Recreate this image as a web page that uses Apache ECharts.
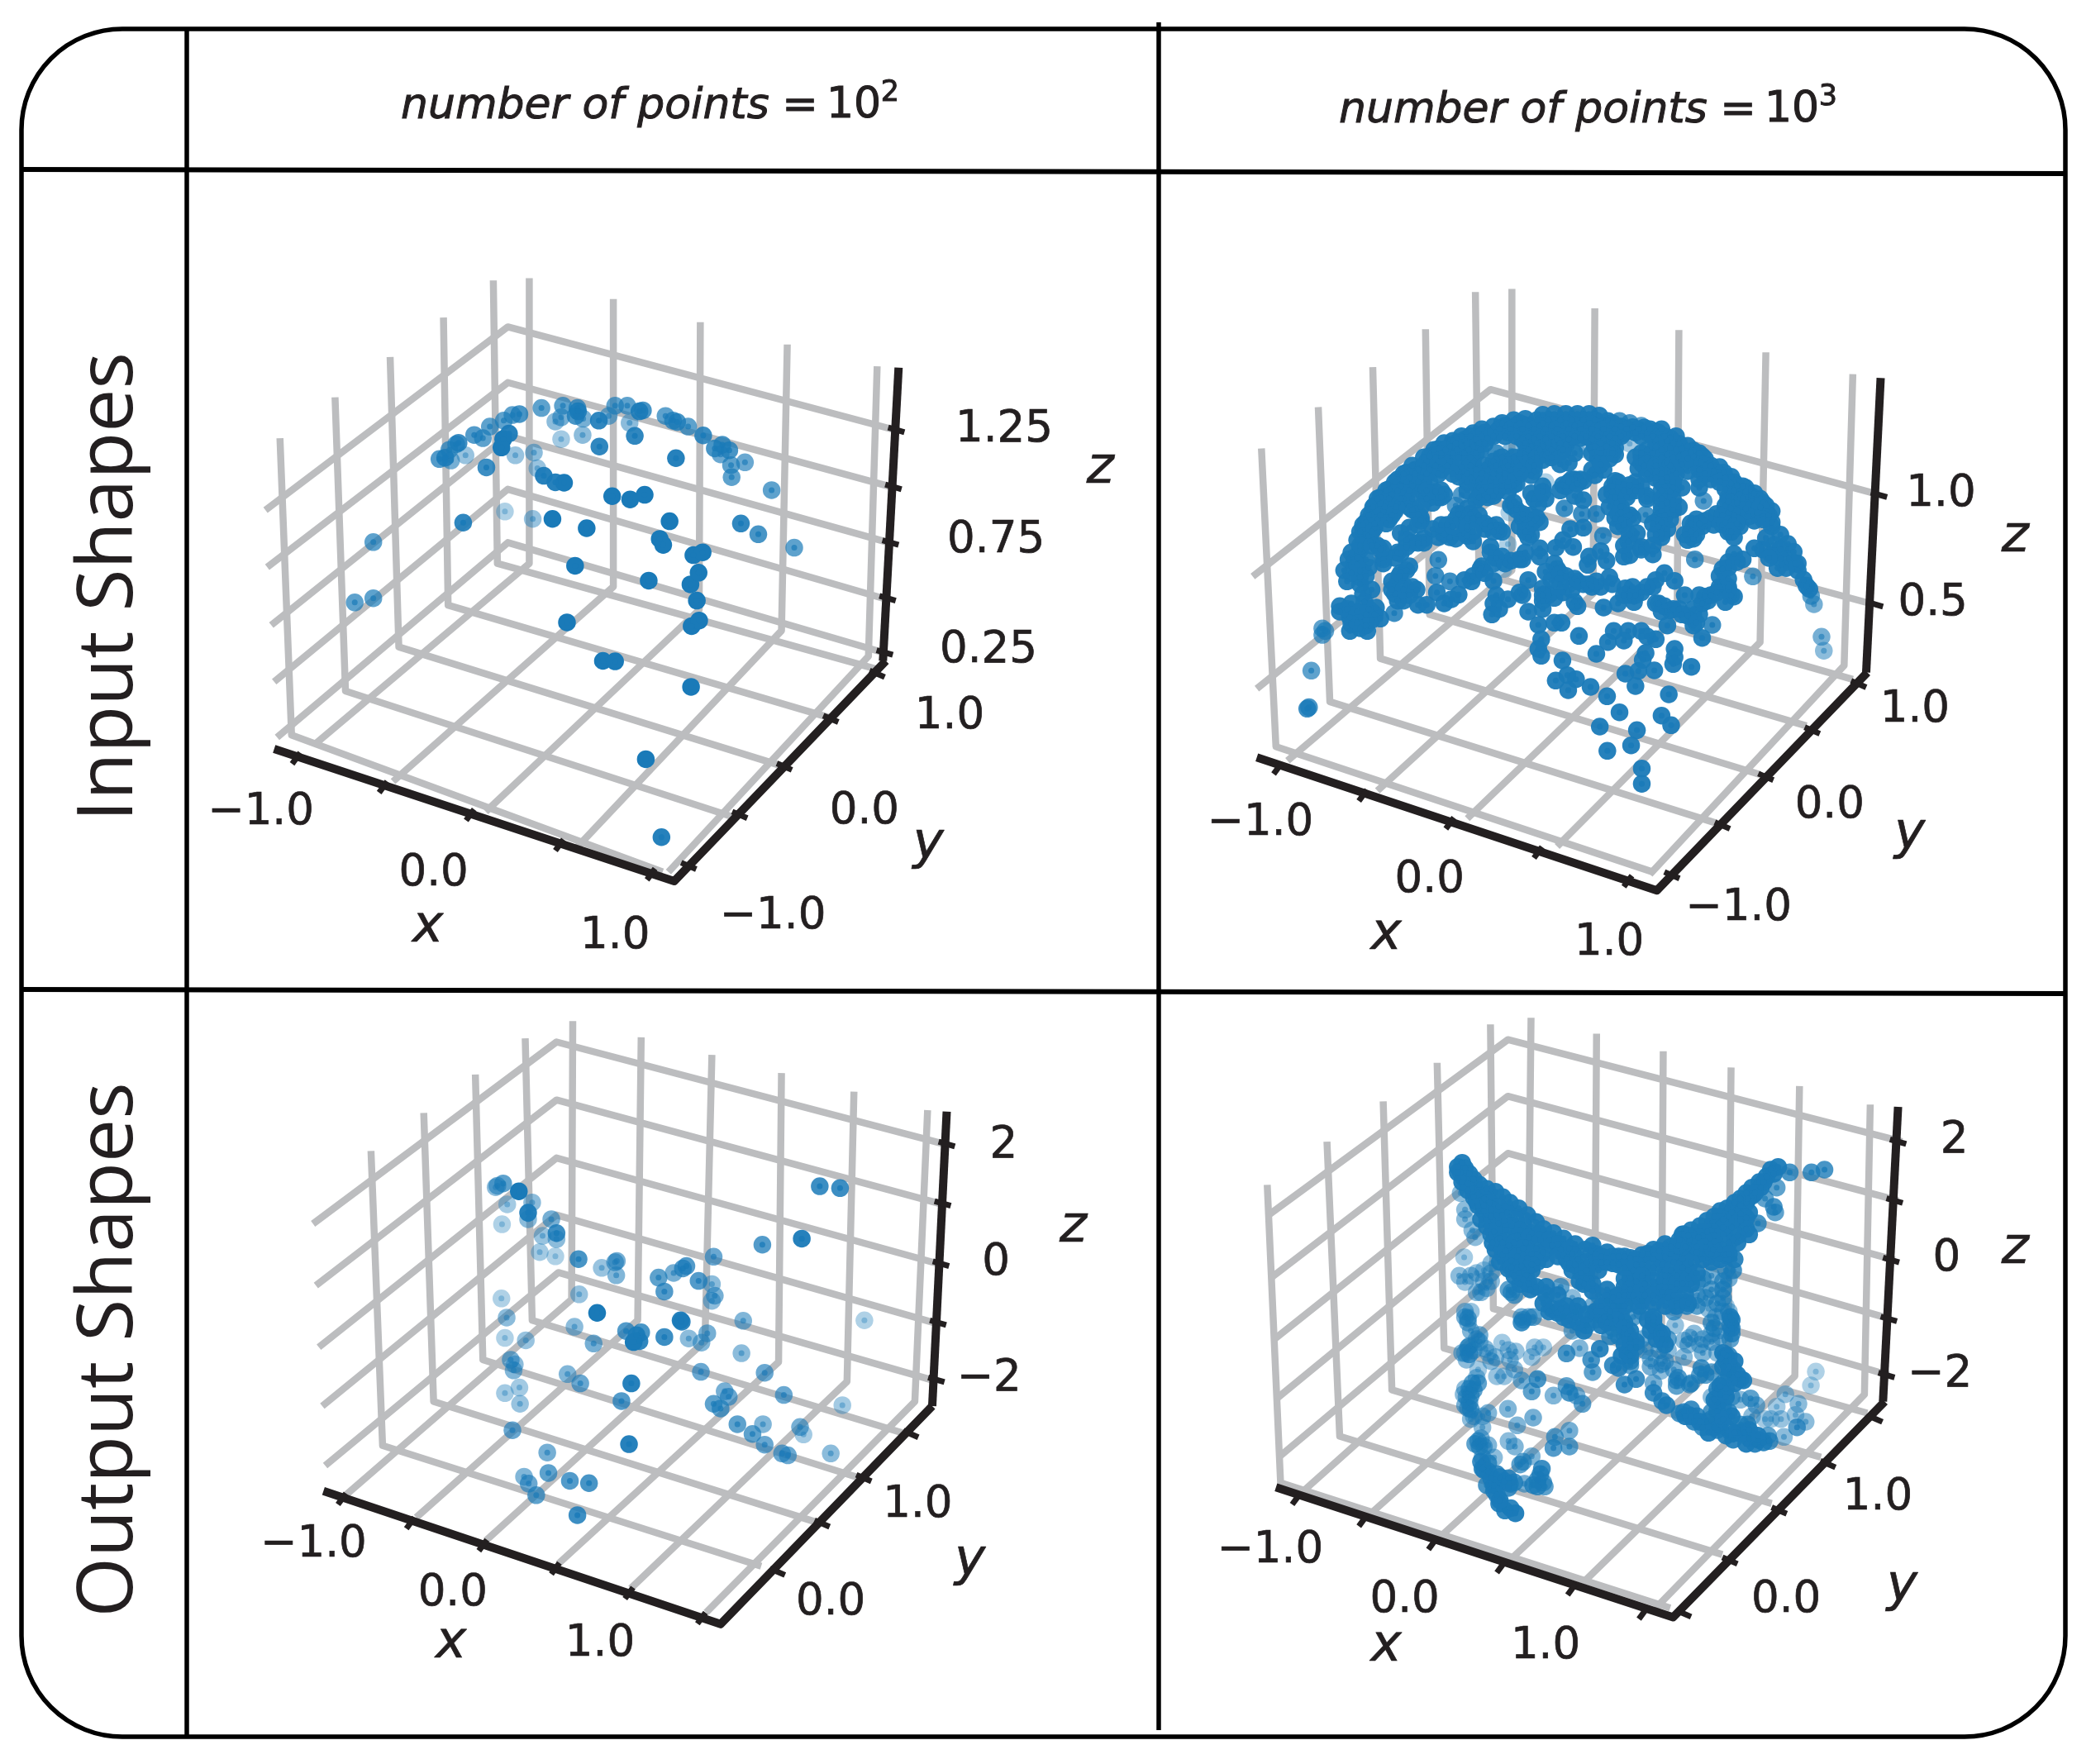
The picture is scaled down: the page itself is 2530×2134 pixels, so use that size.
<!DOCTYPE html>
<html><head><meta charset="utf-8">
<style>html,body{margin:0;padding:0;background:#fff}#c{width:2530px;height:2134px}</style>
<script src="https://cdn.jsdelivr.net/npm/echarts@6/dist/echarts.min.js"></script>
</head><body><div id="c"></div>
<script>
const input100 = [[813,1270,.95],[786,1102,1],[864,946,1],[712,890,1],[733,891,1],[650,807,1],[865,815,1],[878,803,1],[874,760,1],[863,725,1],[877,700,1],[791,717,1],[664,685,1],[868,662,1],[884,656,1],[810,627,1],[816,640,1],[684,604,1],[625,584,1],[827,589,1],[471,592,.9],[316,634,.7],[284,764,.7],[316,755,.7],[543,568,.35],[591,584,.45],[728,535,1],[759,542,1],[784,532,1],[950,594,.9],[980,617,.8],[1042,646,.7],[1003,522,.7],[934,494,.7],[933,468,.7],[957,462,.65],[930,436,.8],[918,424,.8],[905,432,.8],[915,445,.65],[885,404,.85],[859,385,.7],[840,375,.8],[833,372,.75],[820,362,.7],[838,453,.95],[767,405,.9],[758,377,.5],[775,352,.9],[781,350,.8],[754,340,.7],[733,340,.7],[722,362,.6],[705,372,.9],[706,428,.9],[677,403,.5],[640,412,.4],[630,374,.5],[640,365,.6],[678,368,.6],[665,362,.8],[669,352,.9],[668,345,.75],[643,340,.7],[606,345,.7],[568,358,.8],[556,360,.7],[541,372,.7],[517,385,.7],[490,403,.75],[505,410,.7],[550,400,.95],[540,412,1],[537,430,1],[463,420,.85],[447,435,.7],[440,452,.85],[430,455,.75],[450,458,.6],[475,447,.45],[561,447,.45],[593,441,.5],[599,475,.45],[511,473,.85],[610,491,.95],[630,505,.95],[645,506,1],[459,423,.7]];

const output100 = [[530,400,.6],[540,395,.7],[527,403,.5],[567,412,1],[590,436,.5],[547,440,.4],[583,458,.95],[583,472,.5],[538,483,.35],[623,472,.6],[632,502,.85],[632,515,.5],[608,508,.45],[603,543,.4],[630,552,.35],[670,558,.8],[710,577,.45],[736,562,.6],[733,565,.6],[735,593,.55],[808,598,.7],[834,588,.6],[850,578,.75],[856,573,.75],[903,553,.65],[877,605,.75],[900,612,.5],[818,628,.75],[905,637,.6],[900,648,.5],[671,634,.45],[537,643,.35],[702,674,1],[846,690,.95],[848,693,.9],[954,691,.55],[1163,690,.35],[546,684,.5],[663,704,.5],[543,728,.35],[579,733,.45],[752,713,.75],[778,716,.8],[770,722,.9],[765,737,1],[775,735,.9],[818,726,.85],[860,729,.5],[892,718,.6],[882,738,.55],[696,740,.6],[951,761,.5],[553,775,.6],[560,785,.5],[558,798,.55],[881,801,.65],[991,803,.65],[651,806,.55],[673,826,.65],[761,826,.95],[568,835,.4],[543,847,.4],[922,843,.6],[929,855,.65],[1024,851,.65],[744,864,.75],[569,870,.45],[903,870,.7],[915,880,.7],[1125,873,.4],[556,927,.65],[944,914,.7],[988,914,.55],[970,935,.7],[1052,920,.6],[1058,936,.4],[757,957,.95],[991,958,.65],[1021,977,.65],[1031,981,.65],[1105,977,.5],[616,975,.6],[618,1019,.7],[576,1027,.55],[584,1042,.65],[655,1036,.75],[688,1041,.8],[597,1067,.7],[668,1110,.85],[1086,401,.85],[1121,405,.85],[987,527,.75],[1055,514,.95]];

// Points of the dense panels outside their close-up crops (same plane as the sparse panels).
const input1000 = [[266,911,.7],[259,993,.85],[262,990,.8],[285,820,.7],[285,834,.7],[1060,600],[1075,618],[1050,625],[1088,638],[1065,640],[1045,650],[1075,650],[1098,655],[1090,670],[1060,662],[1105,680],[1105,695],[1115,715],[1125,735],[1100,680],[1085,690],[1075,670],[1070,690],[1120,728],[1128,750,.7],[1133,768,.6],[1146,838,.6],[1150,868,.5],[836,1122],[836,1155]];
const output1000 = [[590,1085,.9],[600,1100,.9],[618,1106,.95],[610,1095,.9]];

const input1000Close = [
[760,65],[800,62],[840,62],[880,62],[920,62],[955,68],
[660,85],[700,80],[740,85],[780,85],[820,85],[860,85],[900,85],[940,85],[985,88],[1025,88,.8],[1060,95,.8],[1100,105,.7],
[590,108],[630,105],[670,105],[710,105],[750,105],[790,105],[830,105],[870,105],[910,105],[950,105],[990,105],[1030,108],[1070,110],[1110,112],[1150,125],
[520,132],[560,130],[600,130],[640,130],[680,130],[720,130],[760,130],[800,130],[840,130],[880,130],[920,130],[960,130],[1000,130],[1040,132],[1080,130],[1120,130],[1160,130],[1200,150],
[450,160],[490,155],[530,155],[570,150],[690,155],[730,155],[770,155],[810,155],[850,155],[890,150],[930,155],[970,155],[1010,150],[1150,155],[1190,160],[1230,170],
[400,190],[440,180],[480,180],[520,180],[560,170],[720,180],[760,180],[800,180],[840,175],[940,180],[980,180],[1010,185],[1150,180],[1200,185],[1240,190],[1280,195],
[370,215],[410,205],[450,205],[490,205],[530,205],[600,205,.85],[700,205],[740,205],[780,205],[820,200],[870,205],[930,205],[970,205],[1010,210],[1100,205],[1140,205],[1190,210],[1230,215],[1280,215],[1310,215],
[320,265],[360,235],[400,235],[440,235],[480,255],[520,240],[590,235],[630,235],[670,235],[720,235],[760,230],[820,245],[850,240],[950,220],[990,225],[1100,240],[1150,235],[1190,240],[1240,245],[1290,240],[1340,250],
[290,275],[330,265],[370,265],[410,265],[490,270],[530,265],[570,265],[610,265],[650,265],[690,265],[730,270],[930,265],[970,265],[1090,260],[1130,270],[1170,265],[1210,265],[1260,270],[1300,265],[1350,270],[1385,275],
[260,300],[300,295],[340,295],[470,290],[510,295],[550,295],[590,295],[630,295],[670,315],[720,285],[870,300],[890,300],[940,285],[1010,305],[1150,295],[1190,295],[1240,330],[1300,300],[1340,300],[1390,295],[1420,310],
[230,335],[270,325],[310,325],[390,345],[420,355],[540,330],[580,325],[620,325],[660,320],[760,325],[830,320],[860,300],[900,305],[1000,325],[1060,320],[1100,325],[1180,325],[1210,330],[1300,330],[1390,335],[1430,325],[1460,330],
[200,365],[240,355],[280,370],[350,350],[400,365],[480,357,.75],[560,355],[600,345],[640,345],[720,350],[770,370],[840,325],[870,360],[980,355],[1060,345],[1120,360],[1180,360],[1400,365],[1440,355],[1480,360],[1510,370],
[180,395],[220,385],[260,385],[300,400],[380,385],[410,365],[460,395,.75],[530,375],[570,365],[660,385],[745,390],[900,375],[1015,385],[1120,370],[1190,385],[1230,400],[1315,378,.75],[1390,395],[1430,385],[1470,390],[1520,385],
[170,425],[210,415],[250,415],[310,410],[340,440],[480,430],[510,425],[650,395],[690,440],[730,450],[835,405,.85],[895,425,.85],[945,425,.85],[1020,425],[1050,435],[1115,428,.8],[1170,415],[1210,410],[1290,445],[1360,425],[1400,420],[1450,420],[1500,420],[1540,430],
[150,455],[190,445],[230,445],[340,450],[430,465],[460,445],[520,440],[580,470],[710,470],[750,455],[1010,440],[1040,450],[1070,440],[1160,445],[1200,445],[1280,465],[1320,450],[1380,465],[1420,445],[1490,450],[1550,455],
[140,480],[180,475],[270,495],[380,480],[420,500],[490,495],[560,480],[610,485],[680,470],[720,500],[855,480],[900,475],[1160,470],[1190,480],[1270,490],[1400,490],[1440,470],
[120,520],[160,505],[330,530],[400,510],[440,510],[500,505],[620,490],[710,510],[968,505,.85],[1085,495],[1170,510],[1280,515],[1420,510],
[165,525],[190,540],[290,545],[460,515],[520,525],[830,520],[1055,525],
[100,565],[130,555],[210,550],[260,565],[580,545],[700,565],[750,550],[805,548],[865,545],[1100,545],[1060,575],[1490,550],
[90,590],[120,585],[150,590],[210,590],[250,585],[400,592,.85],[600,585],[690,590],[750,580],[920,580],[960,560],[1140,572],[1285,590,.8],[1420,570],[1450,590],[1540,585],
[110,600],[210,605],[300,615],[550,615],[590,605],[630,605],[680,590],[800,605],[915,610],[980,595],[1040,580],[1400,620],[1380,625],
[75,630],[130,630],[160,620],[270,640],[290,630],[85,670],[130,655],[240,670],[265,650],[390,650,.85],[440,670,.85],[490,665],[515,670],[545,625],[590,668],[710,665],[770,635],[810,625],[840,650],[870,660],[900,680],[945,670],[990,655],[1045,695],[1070,690],[1120,690],[1150,665],[1180,640],[1215,668],[1370,650],[1485,652,.7],
[170,700],[140,715],[250,715],[285,690],[325,700],[395,710],[470,718],[600,720],[680,710],[760,695],[830,710],[860,700],[960,690],[1060,720],[1100,710],[1250,720],[1320,725],[1380,690],[1400,700],
[60,760],[100,750],[145,745],[185,765],[280,740],[330,755],[360,755],[420,750],[445,735],[590,750],[640,735],[690,720],[760,740],[870,745],[880,760],[970,765],[1020,750],[1075,745],[1150,750],[1180,760],[1230,770],[1310,750],[1330,740],[1390,745],[1420,725],
[95,800],[150,790],[200,805],[248,785,.85],[585,790],[610,770],[710,780],[760,770],[1170,780],[1200,775],[1260,795],[1300,790],
[95,850],[150,830],[155,850],[120,820],[745,828],[800,820],[825,820],[1190,830],[1280,830],[1345,828,.85],[1310,875],
[885,868],[1005,850],[1055,850],[1100,850],[985,890],[1040,885],[1150,880],[1120,870],[755,880],[745,915],[755,940],[945,933],[1115,930],[1105,955],[1215,915],[1215,945],[1210,970],[1273,980],[1145,993],[1090,995],[1045,1005],[1080,1050],[828,957],[845,1010],[805,1030],[875,1025],[848,1065],[925,1053],[982,1087],[1195,1080],[1025,1145],[1170,1157],[1203,1192],[957,1197],[1085,1210],[983,1285],[1065,1265],[10,850,.7],
[650,195,.5],[770,310,.35],[645,420,.35],[640,535,.35],[625,625,.35],[895,190,.4],[1060,170,.4],
[620,95],[680,95],[760,95],[840,95],[920,95],[1000,95],
[550,118],[610,118],[650,118],[690,118],[730,118],[770,118],[810,118],[850,118],[890,118],[930,118],[970,118],[1010,118],[1050,118],[1090,118],[1130,118],[1170,118],
[480,143],[510,143],[550,143],[590,143],[630,143],[670,143],[710,143],[750,143],[790,143],[830,143],[870,143],[910,143],[950,143],[990,143],[1030,143],[1100,143],[1140,143],[1180,143],[1220,143],
[420,168],[460,168],[500,168],[540,168],[700,168],[740,168],[780,168],[820,168],[960,168],[1000,168],[1170,168],[1210,168],[1260,178],
[385,193],[425,193],[465,193],[505,193],[545,193],[710,193],[750,193],[790,193],[830,193],[960,193],[1000,193],[1120,193],[1170,193],[1220,193],[1270,200],[1300,205],
[350,220],[390,220],[430,220],[470,220],[510,220],[620,220],[660,220],[700,220],[740,220],[790,220],[960,205],[1000,205],[1080,220],[1120,220],[1170,220],[1210,220],[1260,225],[1320,225],
[310,250],[350,250],[390,250],[430,250],[510,250],[560,250],[600,250],[640,250],[680,250],[730,250],[960,245],[1110,250],[1150,250],[1200,250],[1320,250],[1370,255],
[280,280],[320,280],[360,280],[400,280],[450,280],[500,280],[550,280],[590,280],[630,280],[680,280],[1120,280],[1170,280],[1220,280],[1320,280],[1370,285],[1410,290],
[250,310],[290,310],[330,310],[370,310],[500,310],[560,310],[600,310],[640,310],[850,310],[880,315],[1020,310],[1080,310],[1170,310],[1210,310],[1370,310],[1410,315],[1450,325],
[220,340],[260,340],[300,340],[360,340],[410,340],[500,340],[550,340],[600,340],[820,340],[1000,345],[1040,340],[1080,340],[1170,340],[1200,345],[1420,340],[1460,345],[1490,350],
[190,370],[230,370],[270,370],[310,370],[360,370],[540,365],[590,360],[730,370],[760,345],[1010,365],[1050,365],[1170,370],[1210,375],[1400,380],[1450,370],[1500,375],[1530,395],
[175,400],[215,400],[255,400],[340,400],[500,405],[670,410],[1030,400],[1170,395],[1410,405],[1460,405],[1510,400],[1550,415],
[160,430],[200,430],[240,430],[330,425],[470,425],[500,440],[540,430],[690,425],[720,430],[1030,445],[1060,430],[1180,430],[1340,440],[1380,430],[1420,430],[1470,435],[1520,435],
[140,465],[180,460],[220,460],[300,475],[330,465],[410,465],[450,470],[500,470],[560,460],[600,465],[720,460],[740,440],[1040,465],[1170,455],[1310,470],[1350,465],[1390,455],[1430,460],[1520,445],
[130,490],[170,490],[290,520],[350,515],[520,490],[590,490],[700,490],[1170,495],[1290,500],[1410,490],
[130,540],[170,540],[200,555],[270,570],[310,530],[350,530],[580,565],[790,665],[820,640],[880,670],[920,680],
[60,780],[85,770],[120,780],[160,770],[180,790],[130,840],[170,810],[100,825],[240,700],[300,720],[260,740],[280,700],[310,690],[130,680],[100,640],[120,610],[150,650],[520,650],[560,640],[620,580],[650,595],[820,680],[780,720],[800,730],[760,720],[930,690],[1000,680],[1040,720],[1080,720],[1140,690],[1160,750],[1210,770],[1280,770],[1240,790],[1290,820],[1300,720],[1340,720],[1370,690],[1360,710],[1400,660],[1400,690],[1410,720],[1400,600],[1430,600],[1300,460],[1270,460],[1250,500],[1260,520],[1150,500],[1140,460],[1030,420],[990,400],[1020,470],[1060,500],[1040,540],[1100,555],[1140,540]];

const output1000Close = [
[140,80],[125,95],[150,100],[135,115],[165,120],[145,135],[180,140],[160,155],[200,160],[175,175],[225,175],[195,195],[255,185],[215,210],[180,205],[280,205],[235,225],[195,235],[305,225],[265,240],[215,255],[335,245],[295,260],[240,275],[205,285],[365,270],[325,285],[265,300],[225,310],[395,295],[350,310],[290,325],[240,340],[420,320],[380,335],[330,345],[270,355],[245,370],[455,335],[410,360],[360,370],[300,380],[255,395],[490,355],[450,380],[395,390],[335,400],[280,415],[530,375],[480,395],[420,405],[365,425],[310,435],[270,440],[565,395],[520,410],[500,430],[400,440],[345,455],[300,465],[540,430],[570,440],[520,470],[550,480],[360,490],[320,490],[340,520],[375,540],[380,470],[560,520],[590,545],[570,500],
[600,410],[640,405],[680,420],[720,425],[760,415],[800,395],[840,375],[860,385],[620,440],[660,445],[760,450],[800,430],[840,420],[880,400],[730,470],[780,480],[830,450],[870,440],[900,430],[740,510],[700,530],[720,500],[770,520],[840,490],[880,490],[920,470],[820,530],[860,530],[900,520],[930,520],[850,570],[960,410],[920,390],[900,340],
[1230,95],[1205,105],[1190,130],[1165,150],[1140,170],[1120,190],[1100,210],[1080,225],[1055,245],[1030,255],[1010,275],[985,290],[960,310],[930,325],[905,340],[1170,170],[1140,200],[1120,225],[1090,250],[1060,275],[1030,300],[1000,325],[970,345],[940,365],[910,385],[1100,290],[1070,315],[1040,340],[1010,365],[980,385],[950,405],[1120,320],[1090,345],[1060,370],[1030,395],[1000,410],[1030,430],[1000,440],[970,430],[1270,115,.8],[1345,115,.8],[1390,105,.8],[1225,170,.7],[1185,210,.7],[1215,240,.8],[1220,260,.7],[1160,300,.8],[1080,430,.9],[1075,470,.8],
[147,423,.4],[135,190,.5],[150,250,.5],[150,285,.5],[175,325,.5],[185,350,.5],[150,513,.45],[190,480,.45],[215,470,.4],[240,480,.5],[205,550,.55],[225,535,.5],[240,445,.5],[310,550,.7],[345,660,.85],[385,640,.7],[345,640,.6],[160,645,.7],[170,620,.45],[160,660,.6],[200,705,.6],[278,733,.4],[160,750,.7],[220,755,.5],[165,775,.75],[255,785,.45],[155,795,.5],[325,765,.45],[305,795,.5],[380,785,.45],[390,750,.45],[420,750,.4],[500,772,.8],[545,753,.55],[615,755,.9],[585,795,.8],[590,840,.7],[660,815,.85],[680,825,.85],[720,815,.7],[195,830,.4],[260,855,.45],[285,855,.45],[320,830,.5],[345,870,.6],[400,865,.8],[380,910,.7],[455,925,.55],[500,890,.7],[510,915,.8],[535,925,.6],[555,955,.7],[700,885,.85],[740,865,.85],[800,880,.6],
[195,880,.7],[180,905,.7],[170,925,.7],[165,950,.7],[170,975,.7],[170,1010,.5],[230,988,.55],[298,973,.55],[385,1005,.6],[330,1033,.55],[210,1040,.5],[205,1080,.6],[185,1100,.7],[230,1105,.55],[300,1090,.5],[322,1110,.55],[250,1150,.5],[205,1165,.85],[215,1195,.85],[240,1225,.85],[285,1235,.85],[250,1270,.85],[270,1305,.95],[305,1245,.8],[340,1175,.7],[380,1145,.55],[415,1190,.85],[355,1245,.6],[400,1255,.8],[510,1052,.6],[460,1075,.7],[510,1110,.7],[455,1115,.75],
[430,560,.9],[450,610,.9],[490,640,.9],[530,620,.9],[570,670,.9],[520,690,.6],[480,530,.7],[590,600,.6],[520,570,.5],[640,580,.9],[680,600,.9],[650,640,.9],[690,640,.85],[660,680,.8],[650,710,.8],[760,580,.9],[720,590,.8],[800,665,.9],[830,720,.9],[815,690,.9],[720,720,.9],[710,770,.9],[720,800,.8],[760,720,.6],[790,790,.55],[770,760,.6],[875,670,.45],[925,715,.45],[905,725,.5],[905,785,.5],[850,760,.5],[840,800,.6],[825,835,.5],[885,860,.75],[880,890,.7],[925,885,.7],[965,825,.8],[980,850,.7],[970,720,.5],[1000,700,.55],[970,770,.55],[1020,770,.5],[1065,720,.7],[1070,650,.9],[1065,670,.85],[1015,640,.6],[990,610,.5],[1050,600,.4],[1040,540,.8],[1000,490,.6],[950,560,.6],[915,600,.85],[880,590,.5],[950,515,.7],[1060,500,.6],
[1050,800,.9],[1075,830,.9],[1100,865,.9],[1040,880,.85],[1030,920,.85],[1020,980,.85],[1060,985,.85],[1000,930,.5],[1100,940,.5],[1135,935,.7],[1155,960,.6],[800,915,.85],[830,945,.85],[845,960,.9],[890,990,.8],[930,975,.85],[940,1020,.85],[970,1040,.8],[1020,1050,.85],[1050,1070,.9],[1075,1085,.9],[1125,1030,.8],[1130,1080,.9],[1150,1100,.9],[1180,1095,.9],[1195,1070,.7],[1140,1000,.5],[1225,965,.4],[1255,920,.45],[1300,955,.5],[1290,995,.45],[1240,1010,.45],[1205,1010,.4],[1185,1010,.4],[1250,1075,.5],[1295,1040,.75],[1325,1020,.5],[1360,838,.35],[1343,888,.35],
[125,115],[140,150],[160,180],[190,220],[215,235],[240,250],[260,270],[285,290],[310,310],[340,325],[370,350],[405,340],[440,360],[470,375],[510,390],[250,330],[280,370],[320,370],[350,390],[380,410],[430,430],[470,420],[510,445],[290,400],[330,420],[380,450],[310,460],[335,480],[350,505],[370,520],[395,530],[530,450],[570,470],[545,510],[590,520],[600,440],[610,470],[640,440],[680,450],[590,380],
[620,420],[660,420],[700,420],[740,430],[780,410],[820,400],[860,410],[700,460],[740,450],[800,460],[860,470],[900,460],[930,440],[700,500],[760,490],[800,510],[840,510],[880,520],[920,500],[950,480],[830,550],[870,560],[910,560],[880,600],[920,590],[700,560],[730,560],[660,570],[640,610],[660,600],[700,600],[750,600],[770,560],
[1215,120],[1180,150],[1150,190],[1125,210],[1100,235],[1070,260],[1040,285],[1010,310],[985,330],[955,350],[925,360],[1130,260],[1100,265],[1070,290],[1040,315],[1010,345],[980,365],[950,385],[1120,280],[1130,340],[1090,370],[1050,415],[920,345],[890,360],[885,380],[1005,395],[1060,410],
[420,590],[440,620],[470,625],[510,650],[540,660],[560,690],[600,650,.8],[630,640],[620,670],[650,620],[700,660],[710,700],[720,750],[800,650],[820,700],[840,740],[1040,620,.5],[1065,640,.9],[1070,680,.85],[1060,780,.85],[1040,820,.9],[1060,850,.9],[1020,900,.85],[1020,950,.85],[1040,960,.85],[1000,985,.8],[1050,1040,.85],[1010,1040,.85],[1090,1060,.85],[1115,1060,.85],[1160,1085,.9],[1200,1090,.8],[1100,1030,.8],[905,985,.85],[950,1000,.85],[985,1020,.7],
[140,770,.55],[200,730,.5],[145,920,.5],[160,970,.6],[150,900,.5],[190,860,.5],[210,1000,.5],[200,1110,.7],[210,1190,.85],[250,1250,.85],[270,1220,.85],[300,1225,.85],[225,1250,.8],[400,1230,.75],[425,1255,.7],
[430,530],[470,560],[500,600],[540,600],[570,630],[600,620],[480,610],[620,600],[610,560,.7],[640,540],[680,560],[720,540],[760,540],[800,560],[800,590],[840,600],[870,620,.7],[950,600,.7],[980,570,.7],[1020,590,.7],[1040,570,.7],[1000,540,.7],[970,500,.7],[1040,510,.7],[1050,470,.7],[640,660],[670,650],[700,680],[680,710,.8],[720,690],[740,730],[700,740],[690,780],[720,780],[740,750,.7],[790,690],[810,720],[830,700],[780,650],[800,640],[760,620,.7],[730,640,.7],[850,720,.7],[820,760,.6],[790,820,.6],[830,810,.6],[870,830,.6],[880,870,.7],[930,880,.7],[960,850,.7],[1000,840,.7],[1050,780],[1040,770],[1080,800],[1060,820],[1090,850],[1110,870],[1080,880],[1050,900],[1070,930,.7],[1030,890],[1010,940],[1050,930],[1000,1010,.8],[1030,1020],[1070,1000],[1040,1010],[1080,1060],[1130,1050],[1120,1100],[1160,1070],[910,1000],[930,1000],[960,1020],[990,1060],[1000,660,.7],[1010,680,.7],[1030,710,.6],[1000,730,.6],[940,700,.5],[920,740,.5],[960,740,.5],[1070,700,.8],[1060,620,.5],
[130,490,.5],[170,490,.5],[215,510,.5],[190,550,.5],[300,540,.7],[320,560,.7],[240,510,.5],[150,640,.6],[150,620,.5],[170,690,.55],[190,720,.55],[165,745,.6],[180,760,.55],[150,770,.5],[230,770,.45],[300,760,.45],[240,800,.5],[350,650,.7],[370,640,.6],[175,880,.7],[165,900,.7],[155,930,.6],[150,960,.6],[180,1000,.5],[195,1090,.7],[215,1110,.6],[210,1150,.6],[230,1170,.8],[230,1200,.85],[260,1210,.85],[320,1240,.8],[300,1260,.85],[260,1285,.85],[350,1165,.7],[410,1210,.8],[385,1250,.8],[420,1240,.7]];

const tickLabelsXY = {
  input100:[['−1.0',122,1208],['0.0',420,1340],['1.0',733,1475],['−1.0',1005,1433],['0.0',1163,1207],['1.0',1310,1002],['1.25',1404,383],['0.75',1390,622],['0.25',1377,860]],
  input1000:[['−1.0',178,1232],['0.0',470,1355],['1.0',780,1490],['−1.0',1003,1415],['0.0',1160,1195],['1.0',1307,987],['1.0',1352,523],['0.5',1338,757]],
  output100:[['−1.0',213,1165],['0.0',453,1270],['1.0',707,1380],['0.0',1105,1290],['1.0',1255,1080],['2',1403,305],['0',1390,558],['−2',1378,808]],
  output1000:[['−1.0',195,1178],['0.0',427,1285],['1.0',670,1385],['0.0',1085,1285],['1.0',1243,1065],['2',1375,295],['0',1362,550],['−2',1350,798]]
};
const axisNames = {
  input100:[['x',410,1465],['y',1273,1285],['z',1570,476]],
  input1000:[['x',395,1482],['y',1298,1265],['z',1480,625]],
  output100:[['x',450,1388],['y',1345,1210],['z',1523,492]],
  output1000:[['x',395,1395],['y',1285,1265],['z',1480,537]]
};
const gridLines = {
  input100:[
   [[215,1070],[585,680],[585,65]],[[350,1150],[730,730],[730,110]],[[510,1215],[878,780],[880,160]],[[665,1295],[1020,825],[1030,208]],[[825,1345],[1170,880],[1185,255]],
   [[815,1345],[175,1050],[155,410]],[[945,1230],[268,955],[250,322]],[[1030,1120],[360,860],[345,235]],[[1110,1015],[445,770],[437,150]],[[1190,910],[530,680],[523,70]],
   [[130,565],[548,170],[1215,392]],[[133,688],[548,290],[1210,515]],[[140,813],[548,405],[1205,635]],[[145,935],[548,520],[1195,755]],[[150,1055],[548,635],[1190,870]]],
  input1000:[
   [[225,1105],[612,695],[612,88]],[[380,1170],[752,745],[755,130]],[[535,1230],[897,795],[900,177]],[[690,1290],[1040,850],[1050,225]],[[850,1350],[1185,900],[1200,272]],
   [[855,1345],[205,1075],[180,432]],[[965,1240],[298,978],[278,343]],[[1040,1135],[385,885],[372,257]],[[1120,1030],[470,790],[463,175]],[[1200,930],[555,700],[549,95]],
   [[165,708],[575,305],[1240,530]],[[172,950],[575,545],[1235,768]]],
  output100:[
   [[270,1065],[658,645],[660,45]],[[390,1115],[772,690],[778,80]],[[510,1165],[888,735],[900,118]],[[635,1215],[1015,780],[1020,157]],[[760,1268],[1133,822],[1145,197]],[[890,1320],[1250,865],[1272,237]],
   [[985,1220],[332,960],[312,325]],[[1080,1125],[420,865],[403,243]],[[1155,1030],[505,775],[492,160]],[[1235,935],[590,690],[578,82]],
   [[212,482],[632,90],[1300,310]],[[217,615],[632,215],[1292,438]],[[222,748],[632,340],[1290,568]],[[228,875],[632,463],[1283,695]],[[233,1003],[635,587],[1278,818]]],
  output1000:[
   [[255,1055],[640,625],[645,38]],[[370,1105],[755,675],[758,72]],[[490,1155],[870,720],[873,110]],[[610,1205],[985,765],[990,145]],[[735,1255],[1100,810],[1108,185]],[[860,1310],[1220,850],[1230,225]],
   [[885,1310],[213,1040],[190,398]],[[975,1195],[315,940],[293,305]],[[1060,1085],[405,840],[390,218]],[[1145,985],[495,750],[483,135]],[[1225,890],[580,665],[575,52]],
   [[190,465],[605,85],[1285,305]],[[195,600],[605,207],[1278,432]],[[200,733],[605,330],[1272,560]],[[205,860],[605,450],[1265,687]],[[210,985],[605,570],[1262,808]]]
};
const axisLines = {
  input100:[[[145,1080],[835,1365],[1200,890]],[[1222,258],[1195,890]]],
  input1000:[[[172,1098],[862,1385],[1225,915]],[[1248,280],[1223,915]]],
  output100:[[[230,1058],[915,1345],[1280,875]],[[1305,240],[1280,875]]],
  output1000:[[[205,1050],[890,1330],[1255,865]],[[1278,230],[1252,865]]]
};
const ticksX = {
  input100:[[183,1100],[333,1162],[483,1222],[637,1287],[795,1350]],
  input1000:[[208,1122],[355,1180],[505,1240],[657,1303],[812,1365]],
  output100:[[262,1075],[380,1127],[505,1175],[630,1225],[757,1278],[882,1332]],
  output1000:[[240,1075],[355,1122],[475,1172],[593,1222],[715,1270],[838,1322]]
};
const ticksY = {
  input100:[[860,1332],[948,1222],[1025,1118],[1105,1015],[1185,918]],
  input1000:[[888,1352],[975,1245],[1050,1140],[1130,1040],[1210,940]],
  output100:[[1013,1232],[1090,1128],[1162,1030],[1243,935]],
  output1000:[[908,1322],[988,1208],[1073,1100],[1157,1000],[1238,902]]
};
const ticksZ = {
  input100:[[1218,392],[1213,515],[1208,635],[1203,755],[1198,872]],
  input1000:[[1245,532],[1238,768]],
  output100:[[1305,310],[1298,438],[1295,568],[1290,695],[1287,818]],
  output1000:[[1278,305],[1272,432],[1266,560],[1262,687],[1258,808]]
};
const panelOrder = ['input100','input1000','output100','output1000'];
const pointSets = {input100,input1000,output100,output1000};
const panelRects = [[230,300],[1400,300],[230,1210],[1400,1210]];
const closeCrops = [{left:1600,top:480,points:input1000Close},{left:1720,top:1380,points:output1000Close}];
const PLANE = 1568, CROP_W = 1100, CROP_H = 880, CLOSE_W = 550, CLOSE_H = 440, CLOSE_Y = 1320;
const INK = '#231f20', GREY = '#bcbdbf', BLUE = '#1a7ab8';

const grid=[],xAxis=[],yAxis=[],series=[];
const shade=p=>({value:[p[0],p[1]],itemStyle:{opacity:p.length>2?p[2]:.95}});
const addPoints=(pts,i)=>{
  const sorted=[...pts].sort((a,b)=>(a.length>2?a[2]:.95)-(b.length>2?b[2]:.95));
  [21.5,7].forEach(size=>series.push({xAxisIndex:i,yAxisIndex:i,silent:true,animation:false,type:'scatter',
    data:sorted.map(shade),symbolSize:size,itemStyle:{color:BLUE},clip:false,z:4,progressive:0}));
};
panelOrder.forEach((key,i)=>{
  grid.push({left:panelRects[i][0],top:panelRects[i][1],width:CROP_W,height:CROP_H});
  xAxis.push({type:'value',gridIndex:i,min:0,max:PLANE,show:false});
  yAxis.push({type:'value',gridIndex:i,min:0,max:PLANE,inverse:true,show:false});
  const base={xAxisIndex:i,yAxisIndex:i,silent:true,animation:false};
  const line=(data,color,width,z)=>series.push({...base,type:'line',data,showSymbol:false,symbol:'none',clip:false,
    lineStyle:{color,width,join:'round',cap:'butt'},z});
  gridLines[key].forEach(g=>line(g,GREY,8.5,1));
  axisLines[key].forEach(g=>line(g,INK,10,3));
  ticksX[key].forEach(([u,v])=>line([[u-7,v+12],[u+7,v-12]],INK,7,3));
  ticksY[key].forEach(([u,v])=>line([[u-13,v-7],[u+13,v+7]],INK,7,3));
  ticksZ[key].forEach(([u,v])=>line([[u-14,v-5],[u+14,v+5]],INK,7,3));
  addPoints(pointSets[key],i);
  const text=(rows,font,shift)=>series.push({...base,type:'custom',clip:false,z:5,
    data:rows.map(r=>[r[1],r[2]]),
    encode:{x:0,y:1},
    renderItem:(p,api)=>{const c=api.coord([api.value(0),api.value(1)]);
      return {type:'text',x:c[0],y:c[1]+shift,style:{text:rows[p.dataIndex][0],font,fill:INK,stroke:INK,lineWidth:.7,align:'center',verticalAlign:'middle'}};}});
  text(tickLabelsXY[key],'53px "DejaVu Sans"',5);
  text(axisNames[key],'italic 63px "DejaVu Sans"',0);
});
closeCrops.forEach((c,k)=>{
  const i=panelOrder.length+k;
  grid.push({left:c.left,top:c.top,width:CLOSE_W,height:CLOSE_H});
  xAxis.push({type:'value',gridIndex:i,min:0,max:PLANE,show:false});
  yAxis.push({type:'value',gridIndex:i,min:0,max:CLOSE_Y,inverse:true,show:false});
  addPoints(c.points,i);
});

const FRAME={lineWidth:5.5,stroke:'#000',fill:null};
const hLine=(x1,y1,x2,y2,w)=>({type:'line',shape:{x1,y1,x2,y2},style:{stroke:'#000',lineWidth:w},silent:true});
const label=(text,x,y,font,extra)=>({type:'text',x,y,style:{text,font,fill:INK,stroke:INK,lineWidth:1,align:'center',verticalAlign:'middle'},silent:true,...(extra||{})});
const header=(dx,dy,power)=>[
  {type:'text',x:485+dx,y:129+dy,style:{text:'number of points',font:'italic 52px "DejaVu Sans"',fill:INK,stroke:INK,lineWidth:1,align:'left',verticalAlign:'middle'},silent:true},
  label('=',968+dx,129+dy,'52px "DejaVu Sans"'),
  label('10',1033+dx,128+dy,'52px "DejaVu Sans"'),
  label(power,1077+dx,113+dy,'35px "DejaVu Sans"')];
const graphic=[
  {type:'rect',shape:{x:26,y:35,width:2473,height:2066,r:122},style:FRAME,silent:true},
  hLine(226,35,226,2101,5.5),hLine(1402,27,1402,2093,5.5),
  hLine(26,205,2499,210,6),hLine(26,1197,2499,1202,6),
  ...header(0,0,'2'),...header(1135,5,'3'),
  {type:'text',x:133,y:710,rotation:Math.PI/2,style:{text:'Input Shapes',font:'93px "Open Sans"',fill:INK,align:'center',verticalAlign:'middle'},silent:true},
  {type:'text',x:133,y:1633,rotation:Math.PI/2,style:{text:'Output Shapes',font:'93px "Open Sans"',fill:INK,align:'center',verticalAlign:'middle'},silent:true}
];
const chart=echarts.init(document.getElementById('c'),null,{renderer:'canvas'});
chart.setOption({animation:false,backgroundColor:'#fff',grid,xAxis,yAxis,series,graphic});
</script></body></html>
